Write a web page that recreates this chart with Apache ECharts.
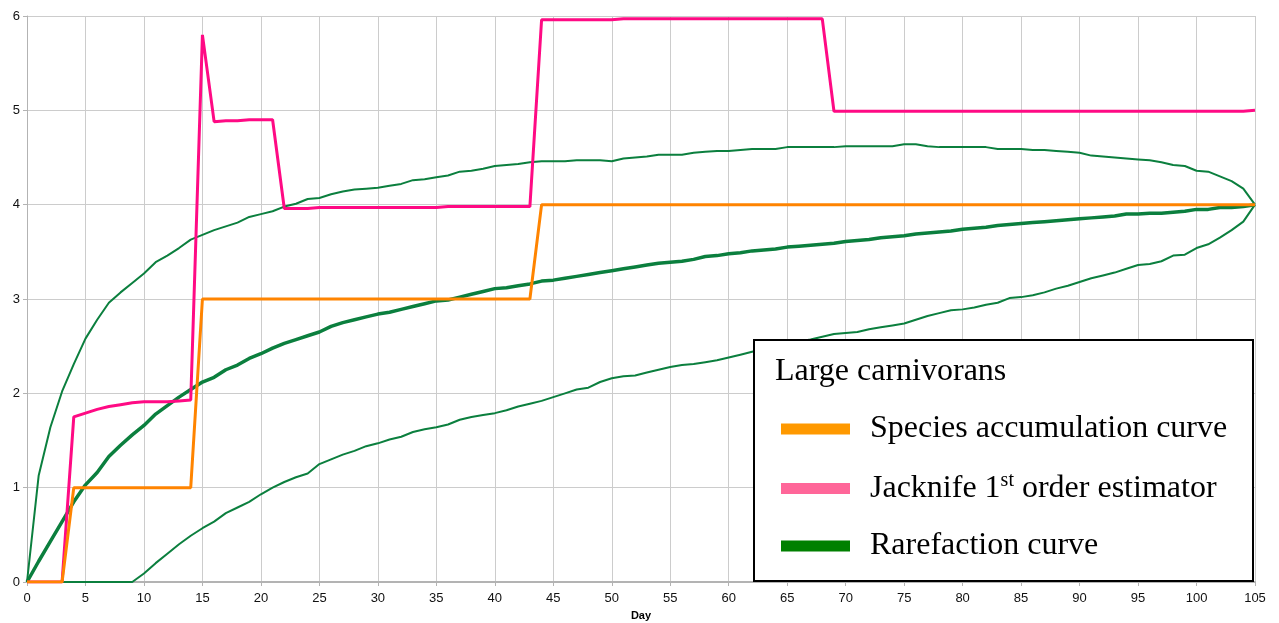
<!DOCTYPE html>
<html>
<head>
<meta charset="utf-8">
<title>Large carnivorans – species accumulation</title>
<script src="https://cdn.jsdelivr.net/npm/echarts@6/dist/echarts.min.js"></script>
<style>
  html, body { margin: 0; padding: 0; background: #fff; }
  #chart { width: 1279px; height: 623px; }
</style>
</head>
<body>
<div id="chart"></div>
<script>
// Sampling days (x axis categories)
const days = [
  0,1,2,3,4,5,6,7,8,9,10,11,12,13,14,15,16,17,18,19,20,
  21,22,23,24,25,26,27,28,29,30,31,32,33,34,35,36,37,38,39,40,
  41,42,43,44,45,46,47,48,49,50,51,52,53,54,55,56,57,58,59,60,
  61,62,63,64,65,66,67,68,69,70,71,72,73,74,75,76,77,78,79,80,
  81,82,83,84,85,86,87,88,89,90,91,92,93,94,95,96,97,98,99,100,
  101,102,103,104,105
];

// Observed species count per day
const speciesAccumulation = [
  0,0,0,0,
  1,1,1,1,1,1,1,1,1,1,1,
  3,3,3,3,3,3,3,3,3,3,3,3,3,3,3,3,3,3,3,3,3,3,3,3,3,3,3,3,3,
  4,4,4,4,4,4,4,4,4,4,4,4,4,4,4,4,4,4,4,4,4,4,4,4,4,4,4,4,4,4,4,
  4,4,4,4,4,4,4,4,4,4,4,4,4,4,4,4,4,4,4,4,4,4,4,4,4,4,4,4,4,4,4
];

// First-order jackknife richness estimate
const jackknife1 = [
  0,0,0,0,
  1.75,1.79,1.83,1.86,1.88,1.90,1.91,1.91,1.91,1.92,1.93,
  5.80,
  4.88,4.89,4.89,4.90,4.90,4.90,
  3.96,3.96,3.96,
  3.97,3.97,3.97,3.97,3.97,3.97,3.97,3.97,3.97,3.97,3.97,
  3.98,3.98,3.98,3.98,3.98,3.98,3.98,3.98,
  5.96,5.96,5.96,5.96,5.96,5.96,5.96,
  5.97,5.97,5.97,5.97,5.97,5.97,5.97,5.97,5.97,5.97,5.97,5.97,5.97,5.97,5.97,5.97,5.97,5.97,
  4.99,4.99,4.99,4.99,4.99,4.99,4.99,4.99,4.99,4.99,4.99,4.99,4.99,4.99,4.99,4.99,4.99,4.99,
  4.99,4.99,4.99,4.99,4.99,4.99,4.99,4.99,4.99,4.99,4.99,4.99,4.99,4.99,4.99,4.99,4.99,4.99,
  5.00
];

// Rarefaction (expected richness) and its upper / lower bounds
const rarefaction = [
  0,0.22,0.43,0.64,0.85,1.03,1.16,1.33,1.45,1.56,
  1.66,1.78,1.87,1.96,2.04,2.12,2.17,2.25,2.30,2.37,
  2.42,2.48,2.53,2.57,2.61,2.65,2.71,2.75,2.78,2.81,
  2.84,2.86,2.89,2.92,2.95,2.98,2.99,3.02,3.05,3.08,
  3.11,3.12,3.14,3.16,3.19,3.20,3.22,3.24,3.26,3.28,
  3.30,3.32,3.34,3.36,3.38,3.39,3.40,3.42,3.45,3.46,
  3.48,3.49,3.51,3.52,3.53,3.55,3.56,3.57,3.58,3.59,
  3.61,3.62,3.63,3.65,3.66,3.67,3.69,3.70,3.71,3.72,
  3.74,3.75,3.76,3.78,3.79,3.80,3.81,3.82,3.83,3.84,
  3.85,3.86,3.87,3.88,3.90,3.90,3.91,3.91,3.92,3.93,
  3.95,3.95,3.97,3.97,3.98,4.00
];

const rarefactionUpper = [
  0,1.13,1.64,2.02,2.31,2.58,2.78,2.96,3.07,3.17,
  3.27,3.39,3.46,3.54,3.63,3.68,3.73,3.77,3.81,3.87,
  3.90,3.93,3.98,4.01,4.06,4.07,4.11,4.14,4.16,4.17,
  4.18,4.20,4.22,4.26,4.27,4.29,4.31,4.35,4.36,4.38,
  4.41,4.42,4.43,4.45,4.46,4.46,4.46,4.47,4.47,4.47,
  4.46,4.49,4.50,4.51,4.53,4.53,4.53,4.55,4.56,4.57,
  4.57,4.58,4.59,4.59,4.59,4.61,4.61,4.61,4.61,4.61,
  4.62,4.62,4.62,4.62,4.62,4.64,4.64,4.62,4.61,4.61,
  4.61,4.61,4.61,4.59,4.59,4.59,4.58,4.58,4.57,4.56,
  4.55,4.52,4.51,4.50,4.49,4.48,4.47,4.45,4.42,4.41,
  4.36,4.35,4.30,4.25,4.17,4.00
];

const rarefactionLower = [
  0,0,0,0,0,0,0,0,0,0,
  0.09,0.20,0.30,0.40,0.49,0.57,0.64,0.73,0.79,0.85,
  0.93,1.00,1.06,1.11,1.15,1.25,1.30,1.35,1.39,1.44,
  1.47,1.51,1.54,1.59,1.62,1.64,1.67,1.72,1.75,1.77,
  1.79,1.82,1.86,1.89,1.92,1.96,2.00,2.04,2.06,2.12,
  2.16,2.18,2.19,2.22,2.25,2.28,2.30,2.31,2.33,2.35,
  2.38,2.41,2.44,2.47,2.50,2.53,2.55,2.57,2.60,2.63,
  2.64,2.65,2.68,2.70,2.72,2.74,2.78,2.82,2.85,2.88,
  2.89,2.91,2.94,2.96,3.01,3.02,3.04,3.07,3.11,3.14,
  3.18,3.22,3.25,3.28,3.32,3.36,3.37,3.40,3.46,3.47,
  3.54,3.58,3.65,3.73,3.82,4.00
];

const yTicks = [0, 1, 2, 3, 4, 5, 6];

const SERIF = '"Liberation Serif", "Times New Roman", serif';
const SANS = '"Liberation Sans", Arial, sans-serif';
const GREEN = '#0b7f3e';

const chart = echarts.init(document.getElementById('chart'), null, { renderer: 'canvas' });

const option = {
  backgroundColor: '#ffffff',
  animation: false,
  title: {
    text: 'Large carnivorans',
    left: 775,
    top: 356,
    padding: 0,
    z: 20,
    textStyle: { fontFamily: SERIF, fontSize: 32, fontWeight: 'normal', color: '#000' }
  },
  graphic: [{
    type: 'rect',
    z: 10,
    shape: { x: 754, y: 340, width: 499, height: 241 },
    style: { fill: '#ffffff', stroke: '#000000', lineWidth: 2 }
  }],
  legend: {
    orient: 'vertical',
    left: 781,
    top: 413,
    padding: 0,
    z: 20,
    icon: 'rect',
    itemWidth: 69,
    itemHeight: 11,
    itemGap: 25.5,
    selectedMode: false,
    data: [
      { name: 'Species accumulation curve', itemStyle: { color: '#ff9900' } },
      { name: 'Jacknife 1st order estimator', itemStyle: { color: '#ff6699' } },
      { name: 'Rarefaction curve', itemStyle: { color: '#008000' } }
    ],
    formatter: function (name) {
      if (name.indexOf('Jacknife') === 0) {
        return '{t|Jacknife 1}{s|st}{t| order estimator}';
      }
      return '{t|' + name + '}';
    },
    textStyle: {
      fontFamily: SERIF,
      fontSize: 32,
      color: '#000',
      padding: [0, 0, 0, 15],
      rich: {
        t: { fontFamily: SERIF, fontSize: 32, color: '#000', lineHeight: 36 },
        s: { fontFamily: SERIF, fontSize: 20, color: '#000', lineHeight: 20, verticalAlign: 'top' }
      }
    }
  },
  grid: { left: 27, right: 24, top: 16, bottom: 41, containLabel: false, outerBoundsMode: 'none' },
  xAxis: {
    type: 'category',
    data: days,
    boundaryGap: false,
    name: 'Day',
    nameLocation: 'middle',
    nameGap: 28,
    nameTextStyle: { fontFamily: SANS, fontSize: 11, fontWeight: 'bold', color: '#000' },
    axisLine: { lineStyle: { color: '#b3b3b3', width: 2 } },
    axisTick: { show: true, interval: 4, length: 4, lineStyle: { color: '#b3b3b3' } },
    axisLabel: { interval: 4, margin: 10, fontFamily: SANS, fontSize: 13, color: '#111' },
    splitLine: { show: true, interval: 4, lineStyle: { color: '#cccccc', width: 1 } }
  },
  yAxis: {
    type: 'value',
    min: yTicks[0],
    max: yTicks[yTicks.length - 1],
    interval: 1,
    axisLine: { show: true, lineStyle: { color: '#b3b3b3', width: 1 } },
    axisTick: { show: true, length: 4, lineStyle: { color: '#b3b3b3' } },
    axisLabel: { margin: 7, fontFamily: SANS, fontSize: 13, color: '#111' },
    splitLine: { show: true, lineStyle: { color: '#cccccc', width: 1 } }
  },
  series: [
    {
      name: 'Rarefaction upper',
      type: 'line',
      data: rarefactionUpper,
      showSymbol: false,
      lineStyle: { color: GREEN, width: 2 },
      itemStyle: { color: GREEN },
      z: 2
    },
    {
      name: 'Rarefaction lower',
      type: 'line',
      data: rarefactionLower,
      showSymbol: false,
      lineStyle: { color: GREEN, width: 2 },
      itemStyle: { color: GREEN },
      z: 2
    },
    {
      name: 'Rarefaction curve',
      type: 'line',
      data: rarefaction,
      showSymbol: false,
      lineStyle: { color: GREEN, width: 3.5 },
      itemStyle: { color: '#008000' },
      z: 3
    },
    {
      name: 'Jacknife 1st order estimator',
      type: 'line',
      data: jackknife1,
      showSymbol: false,
      lineStyle: { color: '#ff0a84', width: 3 },
      itemStyle: { color: '#ff6699' },
      z: 4
    },
    {
      name: 'Species accumulation curve',
      type: 'line',
      data: speciesAccumulation,
      showSymbol: false,
      lineStyle: { color: '#ff8400', width: 3 },
      itemStyle: { color: '#ff9900' },
      z: 5
    }
  ]
};

chart.setOption(option);
</script>
</body>
</html>
